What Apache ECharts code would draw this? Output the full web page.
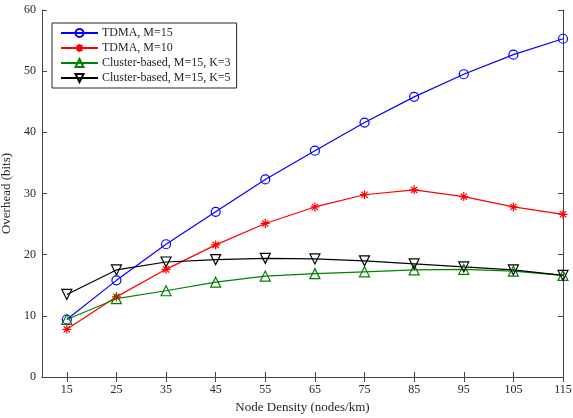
<!DOCTYPE html>
<html>
<head>
<meta charset="utf-8">
<script src="https://cdn.jsdelivr.net/npm/echarts@6/dist/echarts.min.js"></script>
<style>
  html, body { margin: 0; padding: 0; background: #fff; }
  #chart { width: 573px; height: 418px; }
</style>
</head>
<body>
<div id="chart"></div>
<script>
// data
const density = [15, 25, 35, 45, 55, 65, 75, 85, 95, 105, 115]
const tdma15 = [9.4, 15.8, 21.7, 27.0, 32.3, 37.0, 41.6, 45.8, 49.5, 52.7, 55.3]
const tdma10 = [7.8, 13.1, 17.6, 21.6, 25.1, 27.8, 29.8, 30.6, 29.5, 27.8, 26.6]
const clusterK3 = [9.4, 12.8, 14.1, 15.5, 16.5, 16.9, 17.2, 17.5, 17.6, 17.3, 16.6]
const clusterK5 = [13.5, 17.5, 18.8, 19.2, 19.4, 19.3, 19.0, 18.5, 18.0, 17.5, 16.6]
const yTicks = [0, 10, 20, 30, 40, 50, 60]

const font = 'Liberation Serif'
const axisColor = '#444'
const textColor = '#262626'

const star = 'path://M0,-1L0,1M-1,0L1,0M-0.7,-0.7L0.7,0.7M-0.7,0.7L0.7,-0.7'
const triUp = 'path://M0,-1L1,0.8L-1,0.8Z'
const triDown = 'path://M-1,-0.8L1,-0.8L0,1Z'

const pairs = (ys) => density.map((x, i) => [x, ys[i]])

const mChart = echarts.init(document.getElementById('chart'))

const makeSeries = (name, ys, color, symbol, size) => ({
  name,
  type: 'line',
  data: pairs(ys),
  symbol,
  symbolSize: size,
  showAllSymbol: true,
  color,
  lineStyle: { color, width: 1.2 },
  itemStyle: { color: 'transparent', borderColor: color, borderWidth: 1.2 },
  emphasis: { disabled: true },
  animation: false
})

const options = {
  animation: false,
  textStyle: { fontFamily: font },
  grid: { left: 42, right: 10, top: 10, bottom: 41, containLabel: false, outerBoundsMode: 'none' },
  legend: {
    orient: 'vertical',
    left: 52,
    top: 23,
    padding: [4, 6, 4, 8],
    itemGap: 3,
    itemWidth: 37,
    itemHeight: 10,
    backgroundColor: '#fff',
    borderColor: '#262626',
    borderWidth: 1,
    borderRadius: 0,
    textStyle: { fontFamily: font, fontSize: 12, color: textColor, padding: [0, 0, 0, -1] },
    data: ['TDMA, M=15', 'TDMA, M=10', 'Cluster-based, M=15, K=3', 'Cluster-based, M=15, K=5']
  },
  xAxis: [
    {
      type: 'value',
      min: 10,
      max: 115,
      name: 'Node Density (nodes/km)',
      nameLocation: 'middle',
      nameGap: 22,
      nameTextStyle: { fontFamily: font, fontSize: 13, color: textColor },
      splitLine: { show: false },
      axisLine: { show: true, lineStyle: { color: axisColor, width: 1 } },
      axisTick: { inside: true, length: 5, customValues: density, lineStyle: { color: axisColor } },
      axisLabel: { customValues: density, margin: 7, fontFamily: font, fontSize: 12, color: textColor }
    },
    {
      type: 'value',
      position: 'top',
      min: 10,
      max: 115,
      splitLine: { show: false },
      axisLine: { show: true, lineStyle: { color: axisColor, width: 1 } },
      axisTick: { inside: true, length: 5, customValues: density, lineStyle: { color: axisColor } },
      axisLabel: { show: false }
    }
  ],
  yAxis: [
    {
      type: 'value',
      min: 0,
      max: 60,
      interval: 10,
      name: 'Overhead (bits)',
      nameLocation: 'middle',
      nameGap: 20,
      nameRotate: 90,
      nameTextStyle: { fontFamily: font, fontSize: 13, color: textColor },
      splitLine: { show: false },
      axisLine: { show: true, lineStyle: { color: axisColor, width: 1 } },
      axisTick: { inside: true, length: 5, customValues: yTicks, lineStyle: { color: axisColor } },
      axisLabel: { customValues: yTicks, margin: 6, fontFamily: font, fontSize: 12, color: textColor }
    },
    {
      type: 'value',
      position: 'right',
      min: 0,
      max: 60,
      interval: 10,
      splitLine: { show: false },
      axisLine: { show: true, lineStyle: { color: axisColor, width: 1 } },
      axisTick: { inside: true, length: 5, customValues: yTicks, lineStyle: { color: axisColor } },
      axisLabel: { show: false }
    }
  ],
  series: [
    makeSeries('TDMA, M=15', tdma15, '#0000ff', 'circle', 9),
    makeSeries('TDMA, M=10', tdma10, '#ff0000', star, 9),
    makeSeries('Cluster-based, M=15, K=3', clusterK3, '#008000', triUp, 10),
    makeSeries('Cluster-based, M=15, K=5', clusterK5, '#000000', triDown, 10)
  ]
}

mChart.setOption(options)
window.addEventListener('resize', () => {
  mChart.resize()
})
</script>
</body>
</html>
